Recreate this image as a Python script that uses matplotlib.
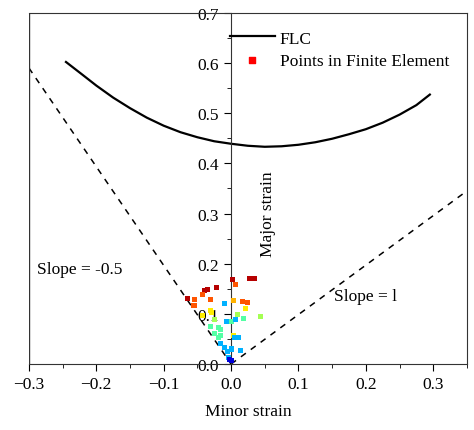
import matplotlib
matplotlib.use("Agg")
import matplotlib.pyplot as plt
from matplotlib.lines import Line2D
from matplotlib.ticker import MultipleLocator
import numpy as np

plt.rcParams['font.family'] = ['Liberation Serif', 'DejaVu Serif']

flc_x = [-0.245, -0.22, -0.2, -0.175, -0.15, -0.125, -0.1, -0.075, -0.05, -0.025, 0.0,
         0.025, 0.05, 0.075, 0.1, 0.125, 0.15, 0.175, 0.2, 0.225, 0.25, 0.275, 0.295]
flc_y = [0.602, 0.576, 0.555, 0.531, 0.51, 0.491, 0.475, 0.462, 0.452, 0.444, 0.439,
         0.435, 0.433, 0.434, 0.437, 0.442, 0.449, 0.458, 0.468, 0.481, 0.497, 0.516, 0.537]

neg_line_x = [-0.3, 0.0]
neg_line_y = [0.59, 0.0]
pos_line_x = [0.0, 0.35]
pos_line_y = [0.0, 0.345]

pts_x = [-0.065, -0.039, -0.035, -0.021, 0.002, 0.028, 0.035,
         -0.054, -0.055, -0.042, -0.031, 0.007, 0.017, 0.024, 0.004,
         -0.031, -0.029, 0.022, -0.042, 0.003,
         0.009, 0.043, -0.025,
         0.018, -0.03, -0.018, -0.015, -0.025, -0.018, -0.015, 0.0,
         -0.01, 0.007, -0.007, 0.005, 0.011, -0.015, -0.01, -0.006, 0.0, 0.014, -0.004,
         -0.002, 0.0]
pts_y = [0.131, 0.146, 0.148, 0.153, 0.168, 0.171, 0.171,
         0.128, 0.117, 0.139, 0.128, 0.158, 0.125, 0.122, 0.126,
         0.106, 0.103, 0.111, 0.096, 0.057,
         0.098, 0.094, 0.088,
         0.091, 0.075, 0.072, 0.069, 0.060, 0.053, 0.056, 0.085,
         0.121, 0.088, 0.085, 0.053, 0.052, 0.041, 0.033, 0.025, 0.030, 0.027, 0.013,
         0.010, 0.007]
pts_level = [0.95] * 7 + [0.82] * 7 + [0.72] + [0.66] * 5 + [0.55] * 3 + [0.45] * 8 + \
            [0.3] * 11 + [0.08] * 2

fig = plt.figure(figsize=(4.74, 4.31), dpi=100)
ax = fig.add_axes([0.061, 0.153, 0.924, 0.815])
ax.set_xlim(-0.3, 0.35)
ax.set_ylim(0, 0.7)

ax.plot(neg_line_x, neg_line_y, color='k', ls=(0, (4, 4)), lw=1.1)
ax.plot(pos_line_x, pos_line_y, color='k', ls=(0, (4, 4)), lw=1.1)
ax.plot(flc_x, flc_y, 'k-', lw=1.6, label='FLC')
ax.scatter(pts_x, pts_y, c=plt.cm.jet(np.array(pts_level)), marker='s', s=13,
           linewidths=0, zorder=3)
ax.scatter([], [], c='red', marker='s', s=13, label='Points in Finite Element')

ax.spines['left'].set_position(('data', 0))
ax.add_line(Line2D([0, 0], [0, 1], transform=ax.transAxes, color='#333333', lw=1))
for s in ax.spines.values():
    s.set_color('#333333')

ax.xaxis.set_major_locator(MultipleLocator(0.1))
ax.xaxis.set_minor_locator(MultipleLocator(0.05))
ax.yaxis.set_major_locator(MultipleLocator(0.1))
ax.yaxis.set_minor_locator(MultipleLocator(0.05))
ax.tick_params(which='both', direction='out', top=False, right=False, labelsize=12.5)
ax.tick_params(which='major', length=5)
ax.tick_params(which='minor', length=3)
ax.set_xticks([-0.3, -0.2, -0.1, 0.0, 0.1, 0.2, 0.3])
ax.set_xticklabels(['\u22120.3', '\u22120.2', '\u22120.1', '0.0', '0.1', '0.2', '0.3'])
ax.set_yticks([0.0, 0.1, 0.2, 0.3, 0.4, 0.5, 0.6, 0.7])
ax.set_yticklabels(['0.0', '0.1', '0.2', '0.3', '0.4', '0.5', '0.6', '0.7'])

ax.set_xlabel('Minor strain', fontsize=12.5, labelpad=8)
ax.text(0.055, 0.3, 'Major strain', rotation=90, fontsize=12.5, ha='center', va='center')
ax.text(-0.225, 0.19, 'Slope = -0.5', fontsize=12.5, ha='center', va='center')
ax.text(0.2, 0.135, 'Slope = l', fontsize=12.5, ha='center', va='center')

ax.legend(loc='upper left', bbox_to_anchor=(0.458, 0.95), frameon=False, fontsize=12.5,
          handlelength=2.6, handletextpad=0.3, borderaxespad=0, borderpad=0,
          labelspacing=0.35)

fig.savefig('out.png', dpi=100)
